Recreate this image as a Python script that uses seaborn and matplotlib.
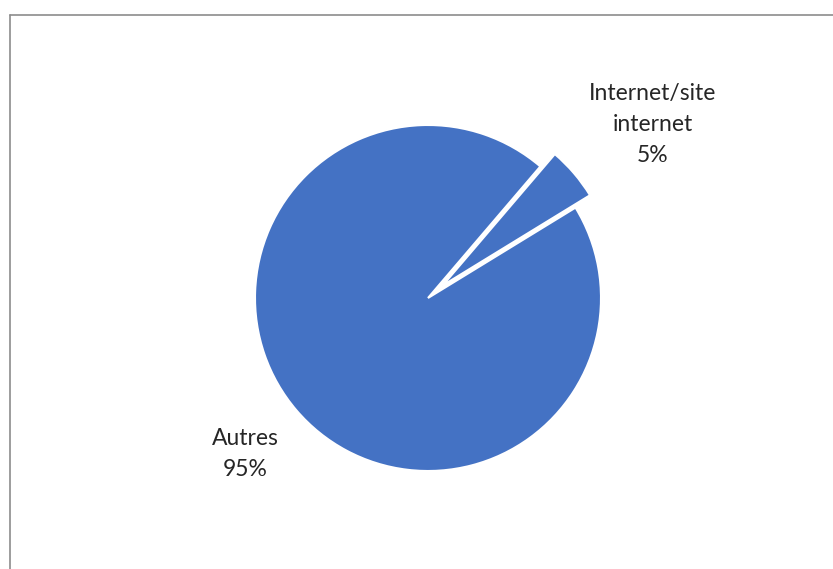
import numpy as np
import matplotlib.pyplot as plt
import seaborn as sns
from matplotlib.lines import Line2D

categories = ['Internet/site\ninternet', 'Autres']
values = [5, 95]
explode = [0.11, 0.0]
label_dist = [1.53, 1.39]
label_turn = [-3.0, 0.0]  # small angular nudge for each label, degrees

sns.set_theme(style='white')
plt.rcParams['font.family'] = ['Lato', 'DejaVu Sans']

W, H = 833, 569
fig = plt.figure(figsize=(W / 100, H / 100), dpi=100)
ax = fig.add_axes([0, 0, 1, 1])

wedges, _ = ax.pie(values, explode=explode, startangle=31.5, counterclock=True,
                   colors=['#4472C4', '#4472C4'],
                   wedgeprops=dict(edgecolor='white', linewidth=1.5))

# label placement from each wedge's mid angle
for w, cat, v, d, t in zip(wedges, categories, values, label_dist, label_turn):
    mid = np.deg2rad((w.theta1 + w.theta2) / 2 + t)
    cx, cy = w.center
    ax.text(cx + d * np.cos(mid), cy + d * np.sin(mid), f'{cat}\n{v}%',
            ha='center', va='center', fontsize=16.5, color='#262626',
            linespacing=1.6)

# map the unit pie onto the pixel layout of the reference
cx_px, cy_px, r_px = 428, 298, 173
ax.set_xlim(-cx_px / r_px, (W - cx_px) / r_px)
ax.set_ylim(-(H - cy_px) / r_px, cy_px / r_px)
ax.axis('off')

# chart frame (top and left edges visible)
fx, fy = 10 / W, 1 - 15 / H
fig.add_artist(Line2D([fx, 1], [fy, fy], color='#8c8c8c', lw=1.2, transform=fig.transFigure))
fig.add_artist(Line2D([fx, fx], [0, fy], color='#8c8c8c', lw=1.2, transform=fig.transFigure))

plt.savefig('out.png', dpi=100)
